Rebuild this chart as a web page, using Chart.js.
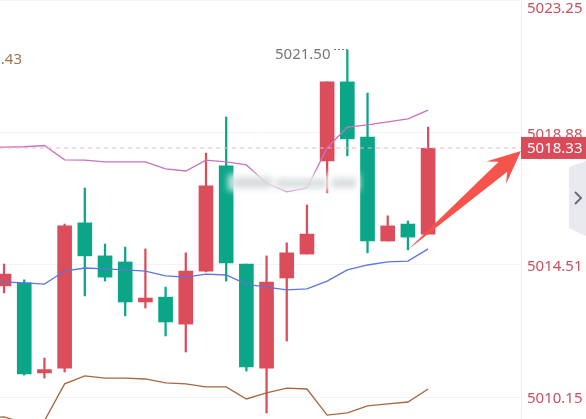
<!DOCTYPE html>
<html><head><meta charset="utf-8">
<style>html,body{margin:0;padding:0;background:#fff;overflow:hidden}canvas{display:block}</style>
<script src="https://cdn.jsdelivr.net/npm/chart.js@4/dist/chart.umd.min.js"></script>
</head><body><canvas id="c" width="586" height="419"></canvas>
<script>
const indices = [0,1,2,3,4,5,6,7,8,9,10,11,12,13,14,15,16,17,18,19,20,21];
const opens  = [5013.82,5013.92,5010.95,5011.11,5015.90,5014.81,5014.61,5013.29,5013.45,5012.56,5014.31,5017.78,5014.54,5011.11,5014.08,5014.87,5017.94,5020.55,5018.73,5015.30,5015.86,5015.53];
const closes = [5014.21,5010.92,5011.06,5015.80,5014.81,5014.11,5013.29,5013.42,5012.63,5014.31,5017.12,5014.58,5011.15,5013.95,5014.91,5015.53,5020.55,5018.67,5015.30,5015.80,5015.43,5018.36];
const highs  = [5014.54,5014.02,5011.44,5015.86,5017.05,5015.20,5015.10,5015.04,5013.78,5014.91,5018.20,5019.39,5014.54,5014.81,5015.24,5016.49,5020.55,5021.60,5020.18,5016.13,5015.96,5019.06];
const lows   = [5013.59,5010.88,5010.78,5010.98,5013.49,5013.98,5012.83,5013.09,5012.17,5011.64,5014.28,5013.98,5011.01,5009.63,5012.00,5014.87,5016.89,5018.11,5014.91,5015.30,5015.01,5015.53];
const lineIndices = [-1,0,1,2,3,4,5,6,7,8,9,10,11,12,13,14,15,16,17,18,19,20,21];
const upperBand = [5018.37,5018.40,5018.41,5018.45,5017.98,5017.97,5017.91,5017.91,5017.91,5017.68,5017.61,5017.97,5017.91,5017.81,5017.21,5016.92,5017.05,5018.37,5019.06,5019.13,5019.23,5019.33,5019.62];
const middleBand = [5013.98,5013.95,5013.92,5013.88,5014.31,5014.41,5014.38,5014.35,5014.31,5014.15,5014.11,5014.21,5014.18,5013.88,5013.78,5013.69,5013.72,5013.98,5014.35,5014.51,5014.61,5014.64,5015.04];
const lowerBand = [5009.47,5009.50,5009.30,5009.37,5010.59,5010.85,5010.78,5010.78,5010.75,5010.62,5010.59,5010.49,5010.49,5010.09,5010.29,5010.45,5010.42,5009.56,5009.63,5009.86,5009.93,5009.99,5010.42];
const tickValues = [5010.15,5014.51,5018.88,5023.25];
const tickLabels = ["5010.15","5014.51","5018.88","5023.25"];
const priceLine = 5018.37;
const priceLabel = "5018.33";
const highLabel = "5021.50";
const sideLabel = ".43";
const highIndex = 17;
const arrowFromIndex = 20;

const RED = '#db4d5b', GREEN = '#0ba688';
const FONT = '15px "Noto Sans"';
const isUp = i => closes[i] >= opens[i];
const candleColor = ctx => isUp(ctx.dataIndex) ? RED : GREEN;

const overlay = {
  id: 'overlay',
  beforeDraw(chart) {
    const items = chart.scales.y.getLabelItems();
    items.forEach(it => { if (it.label === tickLabels[3]) it.options.translation[1] = 9; });
  },
  afterDatasetsDraw(chart) {
    const { ctx, scales: { x, y } } = chart;
    ctx.save();
    // blurred watermark
    ctx.filter = 'blur(3px)';
    ctx.fillStyle = 'rgba(255,255,255,0.7)';
    ctx.fillRect(228, 174, 132, 17);
    ctx.fillStyle = 'rgba(205,212,212,0.8)';
    ctx.fillRect(232, 177, 40, 11);
    ctx.fillRect(276, 179, 50, 9);
    ctx.fillRect(332, 178, 24, 10);
    ctx.filter = 'none';

    // peak label with dotted leader
    ctx.font = FONT; ctx.fillStyle = '#73767c';
    ctx.textAlign = 'left'; ctx.textBaseline = 'middle';
    ctx.fillText(highLabel, 275, 55);
    const hx = x.getPixelForValue(highIndex), hy = y.getPixelForValue(highs[highIndex]);
    ctx.strokeStyle = '#73767c'; ctx.lineWidth = 1; ctx.setLineDash([2, 2]);
    ctx.beginPath(); ctx.moveTo(334, hy - 0.5); ctx.lineTo(hx, hy - 0.5); ctx.stroke();
    ctx.setLineDash([]);

    // side label
    ctx.fillStyle = '#a2734f'; ctx.textAlign = 'right';
    ctx.fillText(sideLabel, 22, 60);

    // arrow
    const ax = x.getPixelForValue(arrowFromIndex), ay = y.getPixelForValue(lows[arrowFromIndex]);
    const tx = x.right, ty = y.getPixelForValue(priceLine) + 3;
    const len = Math.hypot(tx - ax, ty - ay), ux = (tx - ax) / len, uy = (ty - ay) / len, nx = -uy, ny = ux;
    const pt = (back, off) => [tx - ux * back + nx * off, ty - uy * back + ny * off];
    const poly = [[ax, ay], pt(24, 6.5), pt(33, 15), [tx, ty], pt(33, -15), pt(24, -6.5)];
    ctx.fillStyle = '#f5534b';
    ctx.beginPath(); poly.forEach((p, i) => i ? ctx.lineTo(p[0], p[1]) : ctx.moveTo(p[0], p[1]));
    ctx.closePath(); ctx.fill();

    // last price tag
    const py = y.getPixelForValue(priceLine);
    ctx.fillStyle = '#db4a58';
    ctx.fillRect(x.right, py - 11, 65, 22);
    ctx.fillStyle = '#ffffff'; ctx.textAlign = 'left';
    ctx.fillText(priceLabel, x.right + 6, py + 0.5);

    // side tab
    ctx.fillStyle = '#e9eaef';
    ctx.beginPath(); ctx.moveTo(569, 167); ctx.lineTo(586, 161); ctx.lineTo(586, 236); ctx.lineTo(569, 228); ctx.closePath(); ctx.fill();
    ctx.strokeStyle = '#6b6e78'; ctx.lineWidth = 2;
    ctx.beginPath(); ctx.moveTo(575, 192); ctx.lineTo(581, 198); ctx.lineTo(575, 204); ctx.stroke();
    ctx.restore();
  }
};

const line = (data, color, width) => ({
  type: 'line', data: data.map((v, i) => ({ x: lineIndices[i], y: v })),
  borderColor: color, borderWidth: width, pointRadius: 0, tension: 0, fill: false, order: 1
});

new Chart(document.getElementById('c'), {
  data: {
    datasets: [
      line(upperBand, '#cb72bd', 1.3),
      line(middleBand, '#5d75dd', 1.3),
      line(lowerBand, '#a5683f', 1.3),
      { type: 'line', data: [{ x: -1, y: priceLine }, { x: 26, y: priceLine }],
        borderColor: '#eeb4b8', borderWidth: 1, borderDash: [4, 4], pointRadius: 0, order: 0 },
      { type: 'bar', data: indices.map((v, i) => ({ x: v, y: [Math.min(opens[i], closes[i]), Math.max(opens[i], closes[i])] })),
        backgroundColor: candleColor, barThickness: 14, grouped: false, order: 2 },
      { type: 'bar', data: indices.map((v, i) => ({ x: v, y: [lows[i], highs[i]] })),
        backgroundColor: candleColor, barThickness: 1.6, grouped: false, order: 3 }
    ]
  },
  options: {
    responsive: false, animation: false, devicePixelRatio: 1,
    layout: { padding: 0 },
    plugins: { legend: { display: false }, tooltip: { enabled: false } },
    scales: {
      x: {
        type: 'linear', min: -0.2, max: 25.6, offset: false,
        afterBuildTicks: s => { s.ticks = [{ value: 11 }]; },
        afterFit: s => { s.height = 0; s.paddingLeft = 0; s.paddingRight = 0; },
        ticks: { display: false },
        grid: { color: '#f1f3f8', drawTicks: false }, border: { display: false }
      },
      y: {
        position: 'right', min: 5009.43, max: 5023.25,
        afterFit: s => { s.width = 65; s.paddingTop = 0; s.paddingBottom = 0; },
        afterBuildTicks: s => { s.ticks = tickValues.map(v => ({ value: v })); },
        ticks: {
          padding: 6, color: '#c9505f', font: { family: 'Noto Sans', size: 15 },
          labelOffset: 2, autoSkip: false, maxRotation: 0,
          callback: v => tickLabels[tickValues.indexOf(v)]
        },
        grid: { color: '#f1f3f8', drawTicks: false, tickLength: 0 },
        border: { color: '#eceef3', width: 1 }
      }
    }
  },
  plugins: [overlay]
});
</script></body></html>
